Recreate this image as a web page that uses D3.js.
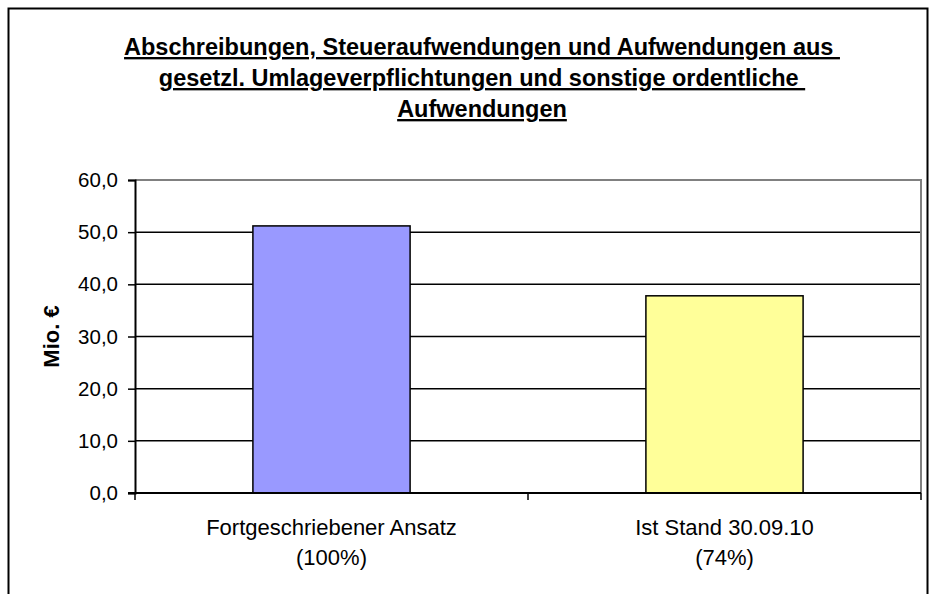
<!DOCTYPE html>
<html>
<head>
<meta charset="utf-8">
<script src="https://cdn.jsdelivr.net/npm/d3@7"></script>
<style>
  body { margin: 0; background: #fff; }
  text { font-family: "Liberation Sans", Arial, sans-serif; }
</style>
</head>
<body>
<div id="chart"></div>
<script>
// chart data
const categories = ['Fortgeschriebener Ansatz|(100%)', 'Ist Stand 30.09.10|(74%)'];
const values = [51.2, 37.8];
const colors = ['#9999ff', '#ffff99'];
const yTicks = [0, 10, 20, 30, 40, 50, 60];
const titleLines = [
  'Abschreibungen, Steueraufwendungen und Aufwendungen aus ',
  'gesetzl. Umlageverpflichtungen und sonstige ordentliche ',
  'Aufwendungen'
];

const width = 930;
const height = 594;
const margin = { top: 180, right: 9, bottom: 101, left: 135 };

const svg = d3.select('#chart')
  .append('svg')
  .attr('width', width)
  .attr('height', height);

// outer frame
svg.append('rect')
  .attr('x', 8.5).attr('y', 8.5)
  .attr('width', 919).attr('height', 620)
  .attr('fill', 'none')
  .attr('stroke', '#000')
  .attr('stroke-width', 2);

// title
svg.append('g')
  .selectAll('text')
  .data(titleLines)
  .enter()
  .append('text')
  .attr('x', 482)
  .attr('y', (d, i) => 55 + i * 31)
  .attr('text-anchor', 'middle')
  .style('font-size', '23.5px')
  .style('font-weight', 'bold')
  .style('text-decoration', 'underline')
  .style('white-space', 'pre')
  .text((d) => d);

const x = d3.scaleBand()
  .domain(categories)
  .range([margin.left, width - margin.right])
  .paddingInner(0.6)
  .paddingOuter(0.3);

const y = d3.scaleLinear()
  .domain([0, 60])
  .range([height - margin.bottom, margin.top]);

const plotRight = width - margin.right;

// gridlines
svg.append('g')
  .selectAll('line')
  .data(yTicks.filter((d) => d > 0 && d < 60))
  .enter()
  .append('line')
  .attr('x1', margin.left)
  .attr('x2', plotRight)
  .attr('y1', (d) => y(d))
  .attr('y2', (d) => y(d))
  .attr('stroke', '#000')
  .attr('stroke-width', 1.5);

// plot border top/right (grey)
svg.append('path')
  .attr('d', `M${margin.left},${y(60)}H${plotRight}V${y(0)}`)
  .attr('fill', 'none')
  .attr('stroke', '#808080')
  .attr('stroke-width', 2);

// bars
svg.append('g')
  .selectAll('rect')
  .data(values)
  .enter()
  .append('rect')
  .attr('x', (d, i) => x(categories[i]))
  .attr('y', (d) => y(d))
  .attr('width', x.bandwidth())
  .attr('height', (d) => y(0) - y(d))
  .attr('fill', (d, i) => colors[i])
  .attr('stroke', '#000')
  .attr('stroke-width', 1.5);

// y axis
const yAxis = svg.append('g')
  .attr('transform', `translate(${margin.left},0)`)
  .call(d3.axisLeft(y).tickValues(yTicks).tickSize(7).tickPadding(10)
    .tickFormat((d) => d3.format('.1f')(d).replace('.', ',')));
yAxis.select('.domain').attr('stroke-width', 2);
yAxis.selectAll('.tick line').attr('stroke-width', 1.5);
yAxis.selectAll('.tick text')
  .style('font-size', '20.5px')
  .style('font-family', '"Liberation Sans", Arial, sans-serif')
  .attr('fill', '#000');

// x axis line with ticks at band boundaries
const xEdges = [margin.left, (margin.left + plotRight) / 2, plotRight];
svg.append('line')
  .attr('x1', margin.left - 7).attr('x2', plotRight)
  .attr('y1', y(0)).attr('y2', y(0))
  .attr('stroke', '#000').attr('stroke-width', 2);
svg.append('g')
  .selectAll('line')
  .data(xEdges)
  .enter()
  .append('line')
  .attr('x1', (d) => d).attr('x2', (d) => d)
  .attr('y1', y(0)).attr('y2', y(0) + 7)
  .attr('stroke', '#000').attr('stroke-width', 1.5);

// category labels
const catLabels = svg.append('g')
  .selectAll('text')
  .data(categories)
  .enter()
  .append('text')
  .attr('text-anchor', 'middle')
  .attr('x', (d) => x(d) + x.bandwidth() / 2)
  .attr('y', 535)
  .style('font-size', '22px');
catLabels.each(function (d) {
  const parts = d.split('|');
  d3.select(this).selectAll('tspan')
    .data(parts)
    .enter()
    .append('tspan')
    .attr('x', x(d) + x.bandwidth() / 2)
    .attr('dy', (p, i) => (i === 0 ? 0 : 30))
    .text((p) => p);
});

// y axis title
svg.append('text')
  .attr('transform', `translate(59,${(y(0) + y(60)) / 2}) rotate(-90)`)
  .attr('text-anchor', 'middle')
  .style('font-size', '22px')
  .style('font-weight', 'bold')
  .text('Mio. €');
</script>
</body>
</html>
